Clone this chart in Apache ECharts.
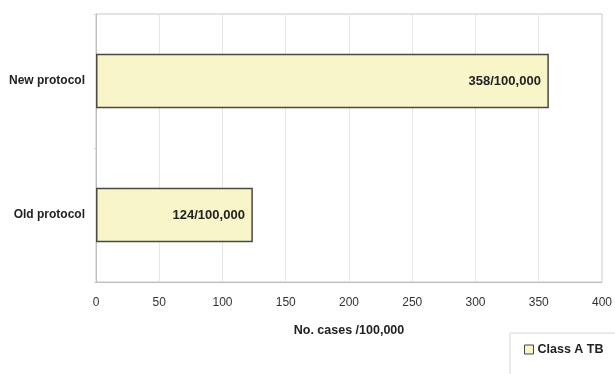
<!DOCTYPE html>
<html>
<head>
<meta charset="utf-8">
<script src="https://cdn.jsdelivr.net/npm/echarts@6/dist/echarts.min.js"></script>
<style>
  html, body { margin: 0; padding: 0; background: #fff; }
  #chart { width: 615px; height: 374px; }
</style>
</head>
<body>
<div id="chart"></div>
<script>
// Categories (bottom to top on the category axis)
const categories = ['Old protocol', 'New protocol'];
// Cases per 100,000
const caseValues = [124, 358];
const seriesName = 'Class A TB';
const axisTitle = 'No. cases /100,000';

const FONT = '"Liberation Sans", Arial, sans-serif';

const chart = echarts.init(document.getElementById('chart'), null, { renderer: 'canvas' });

chart.setOption({
  animation: false,
  backgroundColor: '#ffffff',
  textStyle: { fontFamily: FONT },
  grid: {
    left: 96, right: 11, top: 14, bottom: 92,
    show: true,
    borderColor: '#c8c8c8',
    borderWidth: 1,
    containLabel: false
  },
  legend: {
    data: [seriesName],
    left: 510,
    top: 333,
    orient: 'horizontal',
    itemWidth: 9,
    itemHeight: 9,
    itemGap: 4,
    icon: 'rect',
    padding: [10, 40, 30, 14],
    backgroundColor: '#ffffff',
    borderColor: '#d6d6d6',
    borderWidth: 1,
    textStyle: { fontFamily: FONT, fontSize: 12.5, fontWeight: 'bold', color: '#222', padding: [0, 0, 0, -1] },
    itemStyle: { color: '#f8f6c8', borderColor: '#444', borderWidth: 1 }
  },
  xAxis: {
    type: 'value',
    min: 0,
    max: 400,
    interval: 50,
    name: axisTitle,
    nameLocation: 'middle',
    nameGap: 42,
    nameTextStyle: { fontFamily: FONT, fontSize: 12.5, fontWeight: 'bold', color: '#222' },
    axisLine: { show: true, lineStyle: { color: '#bdbdbd', width: 1 } },
    axisTick: { show: false },
    axisLabel: { fontFamily: FONT, fontSize: 12, color: '#333', margin: 15 },
    splitLine: { show: true, lineStyle: { color: '#e6e6e6', width: 1 } }
  },
  yAxis: {
    type: 'category',
    data: categories,
    axisLine: { show: true, lineStyle: { color: '#bdbdbd', width: 1 } },
    axisTick: { show: true, length: 2, lineStyle: { color: '#d0d0d0' } },
    axisLabel: { fontFamily: FONT, fontSize: 12, fontWeight: 'bold', color: '#222', margin: 11 },
    splitLine: { show: false }
  },
  series: [{
    name: seriesName,
    type: 'bar',
    data: caseValues,
    barWidth: '40.7%',
    itemStyle: { color: '#f8f6c8', borderColor: '#4a4a44', borderWidth: 1.5 },
    label: {
      show: true,
      position: 'insideRight',
      distance: 8,
      fontFamily: FONT,
      fontSize: 13,
      fontWeight: 'bold',
      color: '#222',
      formatter: p => p.value + '/100,000'
    }
  }]
});
</script>
</body>
</html>
